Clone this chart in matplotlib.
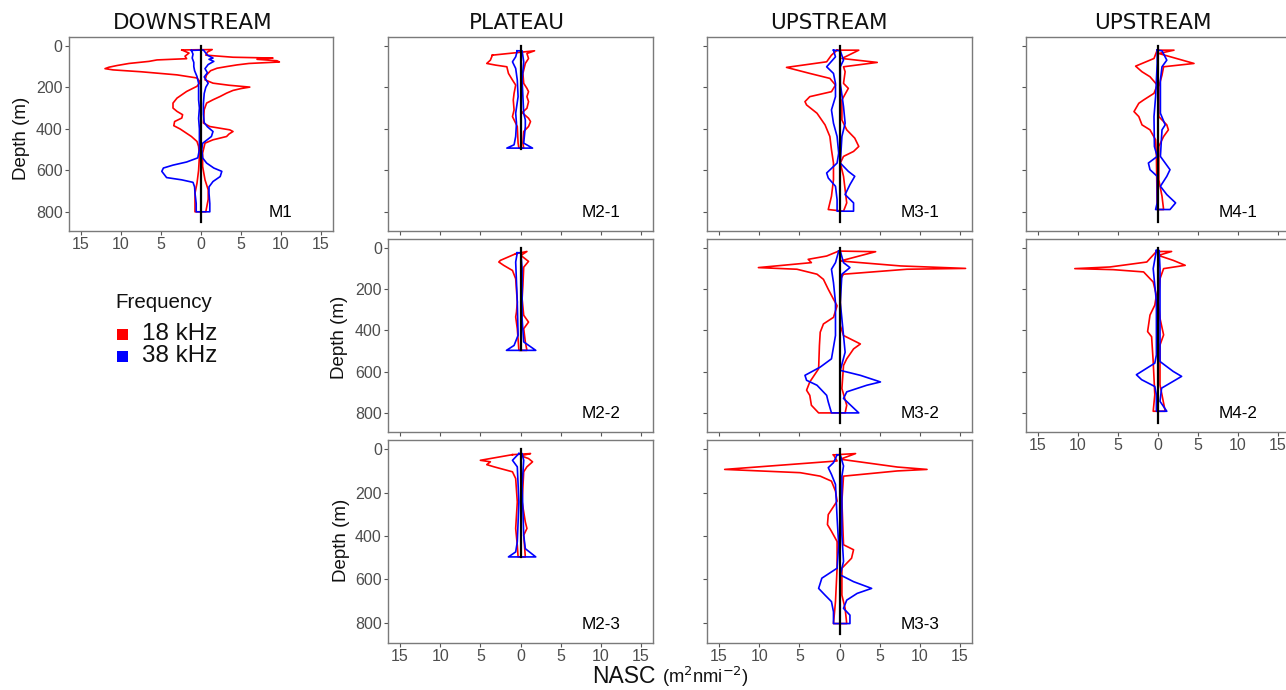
import numpy as np
import matplotlib
matplotlib.use("Agg")
import matplotlib.pyplot as plt
from matplotlib.patches import Rectangle

# ---------------- data (depth in m, NASC magnitude) ----------------
# L = left side of each profile (drawn as negative), R = right side
# M1
M1_18_L_d = [20, 35, 50, 62, 68, 75, 85, 95, 103, 110, 116, 125, 140, 155, 175, 195, 220, 252, 276, 300, 316, 332, 348, 365, 385, 401, 437, 461, 485, 533, 600, 662, 710, 800]
M1_18_L_v = [2.4, 1.5, 2.0, 1.8, 5.5, 6.5, 9.0, 10.5, 11.5, 12.0, 11.0, 7.5, 3.0, 0.5, 0.1, 0.5, 1.8, 3.0, 3.5, 3.5, 3.0, 2.3, 2.4, 3.3, 3.4, 2.6, 1.2, 0.5, 0.3, 0.2, 0.3, 0.5, 0.75, 0.75]
M1_18_R_d = [18, 30, 45, 55, 59, 65, 72, 78, 85, 92, 100, 108, 120, 140, 164, 180, 190, 199, 206, 215, 228, 244, 260, 276, 308, 372, 389, 405, 413, 425, 437, 453, 469, 517, 581, 646, 694, 740, 800]
M1_18_R_v = [1.4, 0.8, 0.6, 4.0, 9.0, 7.0, 9.5, 9.8, 6.0, 4.5, 3.2, 2.0, 1.2, 0.7, 0.5, 1.5, 3.5, 6.1, 5.0, 4.0, 3.2, 2.4, 1.5, 0.7, 0.4, 0.3, 1.1, 3.6, 4.0, 3.5, 3.2, 1.5, 0.5, 0.2, 0.2, 0.5, 0.9, 0.9, 0.6]
M1_38_L_d = [22, 40, 59, 80, 100, 120, 148, 180, 220, 260, 300, 350, 400, 450, 500, 540, 560, 575, 589, 605, 620, 635, 646, 658, 680, 710, 760, 800]
M1_38_L_v = [1.2, 1.0, 1.1, 0.9, 0.9, 0.8, 0.5, 0.3, 0.3, 0.3, 0.2, 0.3, 0.2, 0.2, 0.2, 0.4, 1.8, 3.5, 4.7, 4.9, 4.6, 4.3, 2.4, 1.0, 0.8, 0.75, 0.6, 0.6]
M1_38_R_d = [20, 45, 59, 65, 75, 90, 110, 130, 150, 180, 200, 230, 280, 330, 370, 390, 413, 437, 455, 470, 500, 540, 565, 589, 605, 630, 654, 680, 710, 760, 800]
M1_38_R_v = [0.3, 0.8, 1.5, 1.0, 1.6, 0.9, 0.5, 0.8, 0.4, 0.9, 0.6, 0.4, 0.3, 0.3, 0.4, 0.8, 1.5, 1.3, 0.7, 0.2, 0.1, 0.2, 0.7, 1.6, 2.6, 2.4, 1.5, 1.0, 1.0, 1.1, 1.1]

# M2-1
M21_18_L_d = [45, 69, 85, 93, 101, 133, 165, 189, 229, 261, 309, 341, 389, 469, 493]
M21_18_L_v = [3.5, 3.75, 4.2, 3.1, 1.7, 1.5, 1.0, 0.6, 0.8, 0.9, 0.8, 1.0, 0.4, 0.3, 0.2]
M21_18_R_d = [24, 37, 61, 85, 133, 181, 205, 221, 245, 269, 301, 322, 349, 365, 389, 413, 469, 493]
M21_18_R_v = [1.75, 0.8, 1.0, 0.6, 0.3, 0.4, 0.8, 1.0, 0.8, 1.0, 0.8, 0.2, 1.0, 1.25, 1.0, 0.4, 0.3, 0.4]
M21_38_L_d = [24, 53, 77, 109, 165, 245, 325, 373, 437, 477, 493]
M21_38_L_v = [0.4, 0.6, 1.0, 0.6, 0.4, 0.3, 0.6, 0.5, 0.6, 0.8, 1.7]
M21_38_R_d = [24, 77, 165, 325, 357, 389, 469, 493]
M21_38_R_v = [0.2, 0.4, 0.2, 0.4, 0.6, 0.6, 0.4, 1.5]

# M2-2
M22_18_L_d = [29, 61, 69, 85, 110, 150, 263, 311, 335, 392, 497]
M22_18_L_v = [0.6, 2.5, 2.7, 2.1, 1.0, 0.6, 0.4, 0.5, 0.6, 0.4, 0.2]
M22_18_R_d = [18, 37, 66, 94, 182, 247, 327, 360, 392, 456, 497]
M22_18_R_v = [0.8, 0.05, 1.0, 0.4, 0.3, 0.2, 0.4, 1.0, 0.4, 0.6, 0.8]
M22_38_L_d = [24, 69, 263, 424, 473, 497]
M22_38_L_v = [0.4, 0.6, 0.4, 0.3, 0.8, 1.75]
M22_38_R_d = [24, 102, 344, 456, 497]
M22_38_R_v = [0.05, 0.2, 0.2, 0.4, 1.9]

# M2-3
M23_18_L_d = [25, 51, 58, 71, 81, 89, 104, 135, 243, 365, 442, 496]
M23_18_L_v = [1.0, 5.0, 3.75, 4.2, 3.3, 2.5, 1.0, 0.6, 0.4, 0.6, 0.4, 0.3]
M23_18_R_d = [20, 30, 43, 58, 81, 104, 243, 335, 365, 396, 496]
M23_18_R_v = [1.25, 0.05, 1.0, 1.5, 0.8, 0.4, 0.2, 0.6, 0.8, 0.4, 0.6]
M23_38_L_d = [20, 51, 81, 243, 427, 473, 496]
M23_38_L_v = [0.2, 1.0, 0.4, 0.2, 0.4, 0.6, 1.5]
M23_38_R_d = [20, 51, 166, 396, 458, 496]
M23_38_R_v = [0.2, 0.4, 0.2, 0.4, 0.6, 1.9]

# M3-1
M31_18_L_d = [21, 45, 77, 104, 133, 157, 189, 221, 245, 269, 285, 325, 381, 437, 501, 565, 645, 725, 789]
M31_18_L_v = [0.3, 1.0, 1.6, 6.6, 3.7, 1.2, 0.5, 1.0, 3.7, 4.3, 4.1, 2.8, 1.8, 1.2, 1.0, 0.75, 0.75, 1.0, 1.4]
M31_18_R_d = [21, 61, 80, 101, 125, 181, 205, 261, 357, 405, 445, 485, 509, 533, 565, 629, 693, 757, 797]
M31_18_R_v = [2.4, 0.3, 4.7, 0.5, 0.7, 0.5, 1.1, 0.3, 0.3, 0.9, 1.9, 2.4, 1.75, 0.5, 0.1, 0.5, 0.7, 0.9, 0.5]
M31_38_L_d = [21, 53, 101, 133, 181, 245, 309, 373, 437, 517, 565, 613, 637, 677, 741, 797]
M31_38_L_v = [0.75, 0.5, 1.6, 0.75, 0.5, 0.5, 1.0, 0.75, 0.3, 0.1, 0.3, 1.6, 1.4, 0.5, 0.3, 0.3]
M31_38_R_d = [24, 69, 101, 181, 293, 373, 437, 565, 605, 629, 669, 717, 757, 797]
M31_38_R_v = [0.1, 0.5, 0.1, 0.1, 0.5, 0.7, 0.3, 0.1, 1.1, 1.9, 1.3, 0.7, 1.75, 1.75]

# M3-2
M32_18_L_d = [16, 40, 56, 72, 96, 104, 128, 153, 201, 249, 281, 337, 369, 409, 474, 586, 650, 690, 715, 763, 800]
M32_18_L_v = [0.1, 1.6, 3.9, 3.5, 10.1, 5.3, 2.8, 2.0, 1.4, 0.75, 0.3, 0.75, 2.0, 2.4, 2.5, 2.6, 3.7, 4.1, 3.7, 3.5, 2.6]
M32_18_R_d = [19, 64, 88, 100, 104, 128, 153, 377, 425, 466, 490, 538, 570, 682, 763, 800]
M32_18_R_v = [4.5, 0.1, 7.6, 15.7, 8.4, 0.5, 0.1, 0.1, 0.5, 2.6, 1.75, 0.9, 0.5, 0.3, 0.9, 0.7]
M32_38_L_d = [16, 72, 104, 169, 265, 425, 538, 578, 618, 642, 666, 715, 747, 800]
M32_38_L_v = [0.1, 0.5, 1.0, 0.75, 0.5, 0.5, 1.0, 2.4, 4.3, 4.1, 2.8, 1.6, 1.4, 1.0]
M32_38_R_d = [16, 72, 96, 128, 265, 425, 506, 594, 618, 650, 666, 698, 730, 800]
M32_38_R_v = [0.1, 0.5, 1.3, 0.3, 0.1, 0.5, 0.7, 0.1, 2.6, 5.1, 3.4, 0.9, 0.5, 2.4]

# M3-3
M33_18_L_d = [26, 54, 93, 108, 124, 147, 193, 239, 301, 347, 378, 425, 548, 702, 803]
M33_18_L_v = [0.75, 0.3, 14.3, 4.9, 2.4, 1.0, 0.5, 0.3, 1.4, 1.5, 1.0, 0.3, 0.3, 0.5, 0.75]
M33_18_R_d = [20, 46, 82, 93, 100, 124, 239, 440, 463, 502, 548, 672, 733, 803]
M33_18_R_v = [2.0, 0.1, 7.2, 10.9, 7.2, 0.5, 0.3, 0.5, 1.75, 1.5, 0.3, 0.3, 0.7, 0.9]
M33_38_L_d = [26, 62, 85, 116, 162, 317, 440, 548, 594, 641, 672, 702, 749, 803]
M33_38_L_v = [0.3, 0.75, 1.4, 1.0, 0.5, 0.3, 0.1, 0.3, 2.2, 2.6, 1.8, 1.0, 0.75, 0.75]
M33_38_R_d = [26, 77, 124, 394, 517, 579, 610, 641, 664, 695, 733, 764, 803]
M33_38_R_v = [0.1, 0.5, 0.3, 0.3, 0.5, 0.1, 1.75, 4.0, 2.2, 0.9, 0.5, 1.3, 1.3]

# M4-1
M41_18_L_d = [21, 61, 98, 125, 149, 189, 229, 261, 277, 317, 341, 381, 405, 453, 533, 789]
M41_18_L_v = [0.1, 0.5, 2.8, 2.0, 1.0, 0.1, 0.5, 1.8, 2.4, 3.0, 2.4, 2.0, 1.0, 0.3, 0.2, 0.1]
M41_18_R_d = [21, 37, 85, 101, 141, 197, 341, 381, 405, 437, 485, 645, 725, 789]
M41_18_R_v = [2.0, 0.1, 4.5, 0.7, 0.5, 0.1, 0.1, 1.1, 1.3, 0.7, 0.1, 0.1, 0.5, 0.7]
M41_38_L_d = [21, 85, 245, 341, 485, 533, 565, 597, 629, 757, 789]
M41_38_L_v = [0.1, 0.1, 0.3, 0.5, 0.45, 0.1, 1.2, 1.0, 0.1, 0.1, 0.3]
M41_38_R_d = [24, 69, 101, 165, 325, 381, 405, 533, 597, 629, 677, 717, 757, 789]
M41_38_R_v = [0.5, 1.1, 0.5, 0.3, 0.3, 0.9, 0.5, 0.3, 1.5, 1.1, 0.3, 1.1, 2.2, 1.5]

# M4-2
M42_18_L_d = [18, 69, 93, 101, 106, 117, 166, 230, 278, 326, 406, 431, 551, 712, 792]
M42_18_L_v = [0.2, 1.4, 6.0, 10.4, 5.6, 1.8, 0.6, 0.2, 0.4, 1.0, 1.3, 0.8, 0.6, 0.4, 0.6]
M42_18_R_d = [18, 37, 61, 85, 101, 150, 262, 342, 422, 471, 664, 792]
M42_18_R_v = [1.7, 0.05, 1.9, 3.4, 0.7, 0.25, 0.05, 0.25, 0.7, 0.25, 0.25, 0.9]
M42_38_L_d = [13, 101, 262, 519, 559, 615, 639, 672, 712, 792]
M42_38_L_v = [0.2, 0.6, 0.2, 0.2, 0.4, 2.7, 2.05, 0.4, 0.2, 0.2]
M42_38_R_d = [13, 101, 422, 551, 599, 623, 647, 680, 744, 792]
M42_38_R_v = [0.15, 0.25, 0.25, 0.25, 1.9, 2.95, 1.9, 0.45, 0.25, 1.1]

panel_names = ["M1", "M2-1", "M2-2", "M2-3", "M3-1", "M3-2", "M3-3", "M4-1", "M4-2"]
column_titles = ["DOWNSTREAM", "PLATEAU", "UPSTREAM", "UPSTREAM"]
legend_labels = ["18 kHz", "38 kHz"]
x_ticks = [-15, -10, -5, 0, 5, 10, 15]
y_ticks = [0, 200, 400, 600, 800]
axis_depth = [850, 495, 495, 495, 850, 850, 850, 850, 850]

series = {
    "M1": (M1_18_L_d, M1_18_L_v, M1_18_R_d, M1_18_R_v, M1_38_L_d, M1_38_L_v, M1_38_R_d, M1_38_R_v),
    "M2-1": (M21_18_L_d, M21_18_L_v, M21_18_R_d, M21_18_R_v, M21_38_L_d, M21_38_L_v, M21_38_R_d, M21_38_R_v),
    "M2-2": (M22_18_L_d, M22_18_L_v, M22_18_R_d, M22_18_R_v, M22_38_L_d, M22_38_L_v, M22_38_R_d, M22_38_R_v),
    "M2-3": (M23_18_L_d, M23_18_L_v, M23_18_R_d, M23_18_R_v, M23_38_L_d, M23_38_L_v, M23_38_R_d, M23_38_R_v),
    "M3-1": (M31_18_L_d, M31_18_L_v, M31_18_R_d, M31_18_R_v, M31_38_L_d, M31_38_L_v, M31_38_R_d, M31_38_R_v),
    "M3-2": (M32_18_L_d, M32_18_L_v, M32_18_R_d, M32_18_R_v, M32_38_L_d, M32_38_L_v, M32_38_R_d, M32_38_R_v),
    "M3-3": (M33_18_L_d, M33_18_L_v, M33_18_R_d, M33_18_R_v, M33_38_L_d, M33_38_L_v, M33_38_R_d, M33_38_R_v),
    "M4-1": (M41_18_L_d, M41_18_L_v, M41_18_R_d, M41_18_R_v, M41_38_L_d, M41_38_L_v, M41_38_R_d, M41_38_R_v),
    "M4-2": (M42_18_L_d, M42_18_L_v, M42_18_R_d, M42_18_R_v, M42_38_L_d, M42_38_L_v, M42_38_R_d, M42_38_R_v),
}

# ---------------- layout (pixel boxes: left, top, right, bottom) ----------------
W, H = 1286, 690
boxes = {
    "M1": (69, 37, 333, 231),
    "M2-1": (388, 37, 653, 231), "M2-2": (388, 239, 653, 432), "M2-3": (388, 440, 653, 643),
    "M3-1": (707, 37, 972, 231), "M3-2": (707, 239, 972, 432), "M3-3": (707, 440, 972, 643),
    "M4-1": (1026, 37, 1290, 231), "M4-2": (1026, 239, 1290, 432),
}
show_x = {"M1", "M2-3", "M3-3", "M4-2"}
show_y = {"M1", "M2-2", "M2-3"}

SANS = ["Liberation Sans", "DejaVu Sans"]
RED, BLUE = "#FF0000", "#0000FF"
fig = plt.figure(figsize=(W / 100, H / 100), dpi=100)

def profile_path(ld, lv, rd, rv):
    xs = [-v for v in lv] + list(rv[::-1]) + [-lv[0]]
    ys = list(ld) + list(rd[::-1]) + [ld[0]]
    return xs, ys

for name, depth_end in zip(panel_names, axis_depth):
    l, t, r, b = boxes[name]
    ax = fig.add_axes([l / W, 1 - b / H, (r - l) / W, (b - t) / H])
    s = series[name]
    x18, y18 = profile_path(*s[0:4])
    x38, y38 = profile_path(*s[4:8])
    ax.plot(x18, y18, color=RED, lw=1.2, zorder=2)
    ax.plot(x38, y38, color=BLUE, lw=1.2, zorder=3)
    ax.plot([0, 0], [0, depth_end], color="black", lw=1.6, zorder=4)
    ax.set_xlim(-16.5, 16.5)
    ax.set_ylim(892.5, -42.5)
    ax.set_xticks(x_ticks)
    ax.set_yticks(y_ticks)
    ax.set_xticklabels([str(abs(v)) for v in x_ticks] if name in show_x else [])
    ax.set_yticklabels([str(v) for v in y_ticks] if name in show_y else [])
    for lab in ax.get_xticklabels() + ax.get_yticklabels():
        lab.set_fontfamily(SANS)
    ax.tick_params(length=3, width=0.8, color="#555555", labelcolor="#4d4d4d",
                   labelsize=11.5, pad=1.5)
    for sp in ax.spines.values():
        sp.set_color("#7a7a7a")
        sp.set_linewidth(1.0)
    ax.text(10, 805, name, ha="center", va="center", fontsize=12.3, family=SANS, color="black")

# column titles
for title, cx in zip(column_titles, [193, 517, 829, 1153]):
    fig.text(cx / W, 1 - 23 / H, title, ha="center", va="center", fontsize=15.5,
             family=["DejaVu Sans"], color="#111111")

# y labels
for cx, cy in [(21, 138), (340, 337), (341, 540)]:
    fig.text(cx / W, 1 - cy / H, "Depth (m)", rotation=90, ha="center", va="center",
             fontsize=13.5, family=SANS, color="#111111")

# x label
fig.text(592 / W, 1 - 683 / H, "NASC", ha="left", va="baseline", fontsize=16.5,
         family=SANS, color="#111111")
fig.text(662 / W, 1 - 683 / H, r"(m$^2$nmi$^{-2}$)", ha="left", va="baseline",
         fontsize=13.2, family=SANS, color="#111111")

# legend
fig.text(115 / W, 1 - 302 / H, "Frequency", ha="left", va="center", fontsize=14.8,
         family=SANS, color="#111111")
for lab, col, cy in zip(legend_labels, [RED, BLUE], [334, 356]):
    fig.add_artist(Rectangle((117 / W, 1 - (cy + 5.5) / H), 11 / W, 11 / H,
                             transform=fig.transFigure, color=col, lw=0))
    fig.text(142 / W, 1 - cy / H, lab, ha="left", va="center", fontsize=17.5,
             family=SANS, color="#111111")

fig.savefig("out.png", dpi=100)
